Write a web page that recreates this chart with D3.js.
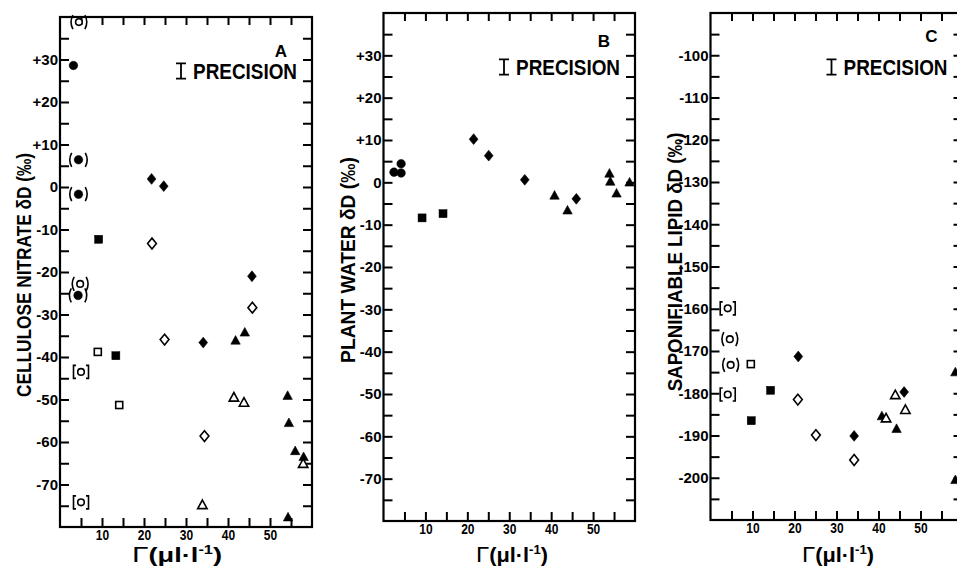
<!DOCTYPE html>
<html>
<head>
<meta charset="utf-8">
<script src="https://cdn.jsdelivr.net/npm/d3@7"></script>
<style>
  html, body { margin: 0; padding: 0; background: #fff; }
  svg { display: block; }
  .tick text { font-family: "Liberation Sans", Arial, sans-serif; fill: #000; }
</style>
</head>
<body>
<svg id="chart" width="957" height="566"></svg>
<script>
// ---------------- DATA ----------------
const xTickLabels = [10, 20, 30, 40, 50];
const yTickLabelsAB = [30, 20, 10, 0, -10, -20, -30, -40, -50, -60, -70];
const yTickLabelsC = [-100, -110, -120, -130, -140, -150, -160, -170, -180, -190, -200];
const panelLetters = ["A", "B", "C"];
const yTitles = ["CELLULOSE NITRATE δD (‰)", "PLANT WATER δD (‰)", "SAPONIFIABLE LIPID δD (‰)"];
const precisionLabel = "PRECISION";
const precisionRange = 3.6; // ‰, length of the precision bar

// [series, Γ (µl·l⁻¹), δD (‰)]
const pointsA = [
  ["parenOpenCircle", 4.5, 38.8],
  ["filledCircle", 3.2, 28.6],
  ["parenFilledCircle", 4.4, 6.4],
  ["parenFilledCircle", 4.4, -1.7],
  ["filledDiamond", 21.8, 1.9],
  ["filledDiamond", 24.7, 0.2],
  ["openDiamond", 21.9, -13.3],
  ["filledSquare", 9.2, -12.3],
  ["filledDiamond", 45.7, -21.0],
  ["parenOpenCircle", 4.8, -22.8],
  ["parenFilledCircle", 4.3, -25.5],
  ["openDiamond", 45.8, -28.4],
  ["openDiamond", 24.9, -35.9],
  ["filledDiamond", 34.1, -36.6],
  ["filledTriangle", 41.8, -36.2],
  ["filledTriangle", 44.0, -34.3],
  ["openSquare", 9.0, -38.8],
  ["filledSquare", 13.3, -39.7],
  ["bracketOpenCircle", 5.0, -43.5],
  ["openSquare", 14.1, -51.3],
  ["openTriangle", 41.4, -49.6],
  ["openTriangle", 43.8, -50.8],
  ["filledTriangle", 54.2, -49.2],
  ["filledTriangle", 54.5, -55.6],
  ["openDiamond", 34.4, -58.6],
  ["filledTriangle", 56.0, -62.2],
  ["filledTriangle", 58.0, -63.6],
  ["openTriangle", 57.9, -65.2],
  ["bracketOpenCircle", 5.0, -74.2],
  ["openTriangle", 33.9, -74.9],
  ["filledTriangle", 54.3, -77.8]
];

const pointsB = [
  ["filledCircle", 2.5, 2.4],
  ["filledCircle", 4.2, 4.4],
  ["filledCircle", 4.2, 2.2],
  ["filledSquare", 9.2, -8.4],
  ["filledSquare", 14.2, -7.4],
  ["filledDiamond", 21.5, 10.2],
  ["filledDiamond", 25.1, 6.3],
  ["filledDiamond", 33.7, 0.6],
  ["filledTriangle", 40.8, -3.2],
  ["filledTriangle", 43.9, -6.7],
  ["filledDiamond", 46.0, -3.9],
  ["filledTriangle", 53.9, 2.0],
  ["filledTriangle", 54.1, 0.1],
  ["filledTriangle", 55.6, -2.7],
  ["filledTriangle", 58.7, -0.1]
];

const pointsC = [
  ["bracketOpenCircle", 4.1, -159.9],
  ["parenOpenCircle", 4.6, -167.2],
  ["parenOpenCircle", 4.8, -173.3],
  ["openSquare", 9.6, -173.1],
  ["bracketOpenCircle", 4.1, -180.3],
  ["filledSquare", 14.3, -179.3],
  ["filledSquare", 9.7, -186.5],
  ["filledDiamond", 20.9, -171.3],
  ["openDiamond", 20.8, -181.5],
  ["openDiamond", 25.1, -189.9],
  ["filledDiamond", 34.2, -190.1],
  ["openDiamond", 34.2, -195.8],
  ["filledTriangle", 40.8, -185.5],
  ["openTriangle", 41.8, -186.0],
  ["filledTriangle", 44.3, -188.5],
  ["openTriangle", 44.0, -180.5],
  ["filledDiamond", 46.1, -179.7],
  ["openTriangle", 46.4, -184.0],
  ["filledTriangle", 58.3, -175.1],
  ["filledTriangle", 58.3, -200.6]
];

// ---------------- LAYOUT ----------------
const font = '"Liberation Sans", Arial, sans-serif';

const panels = [
  { left: 60, right: 312, top: 17, bottom: 527, yDomain: [-80, 40], yLabels: yTickLabelsAB, points: pointsA,
    letterDy: 40, yTitleCy: 275, yTitleLen: 244, xTitleCx: 177, xTitleLen: 90 },
  { left: 383.5, right: 635, top: 13, bottom: 521, yDomain: [-80, 40], yLabels: yTickLabelsAB, points: pointsB,
    letterDy: 34, yTitleCy: 260, yTitleLen: 206, xTitleCx: 512, xTitleLen: 72 },
  { left: 710.5, right: 962.5, top: 13, bottom: 520, yDomain: [-210, -90], yLabels: yTickLabelsC, points: pointsC,
    letterDy: 29, yTitleCy: 262, yTitleLen: 259, xTitleCx: 838, xTitleLen: 72 }
];

const svg = d3.select("#chart");
const fmtY = d => d > 0 ? "+" + d : String(d).replace("\u2212", "-");

function drawMarker(sel, type) {
  const sw = 1.6;
  const filled = type.startsWith("filled") || type === "parenFilledCircle";
  const fill = filled ? "#000" : "#fff";
  if (type.includes("Circle")) {
    const r = filled ? 4.3 : 3.3;
    sel.append("circle").attr("r", r).attr("fill", fill).attr("stroke", "#000").attr("stroke-width", filled ? 0.5 : sw);
    if (type.startsWith("paren")) {
      const o = filled ? 6.8 : 6;
      sel.append("path").attr("d", `M${-o},-7 Q${-o - 3.8},0 ${-o},7 M${o},-7 Q${o + 3.8},0 ${o},7`)
        .attr("fill", "none").attr("stroke", "#000").attr("stroke-width", 1.6);
    } else if (type.startsWith("bracket")) {
      sel.append("path").attr("d", `M-5,-6.5 H-7.5 V6.5 H-5 M5,-6.5 H7.5 V6.5 H5`)
        .attr("fill", "none").attr("stroke", "#000").attr("stroke-width", 1.6);
    }
  } else if (type.includes("Square")) {
    const s = filled ? 8 : 7;
    sel.append("rect").attr("x", -s / 2).attr("y", -s / 2).attr("width", s).attr("height", s)
      .attr("fill", fill).attr("stroke", "#000").attr("stroke-width", filled ? 0.5 : sw);
  } else if (type.includes("Diamond")) {
    sel.append("path").attr("d", "M0,-5.4 L4.4,0 L0,5.4 L-4.4,0 Z")
      .attr("fill", fill).attr("stroke", "#000").attr("stroke-width", filled ? 0.6 : sw);
  } else if (type.includes("Triangle")) {
    sel.append("path").attr("d", "M0,-5.3 L4.7,3.3 L-4.7,3.3 Z")
      .attr("fill", fill).attr("stroke", "#000").attr("stroke-width", filled ? 0.6 : sw);
  }
}

// place a text so that its advance equals a target length (horizontal squeeze)
function fitText(sel, cx, cy, rot, target) {
  sel.attr("x", 0).attr("y", 0);
  const len = sel.node().getComputedTextLength();
  const s = target / len;
  sel.attr("transform", `translate(${cx},${cy}) rotate(${rot}) scale(${s},1)`);
}

panels.forEach((p, i) => {
  const x = d3.scaleLinear().domain([0, 60]).range([p.left, p.right]);
  const y = d3.scaleLinear().domain(p.yDomain).range([p.bottom, p.top]);
  const xt = d3.range(5, 60, 5);
  const yt = d3.range(p.yDomain[0] + 5, p.yDomain[1], 5);

  const bottom = svg.append("g").attr("transform", `translate(0,${p.bottom})`)
    .call(d3.axisBottom(x).tickValues(xt).tickSize(-9).tickPadding(2)
      .tickFormat(d => xTickLabels.includes(d) ? String(d) : ""));
  bottom.selectAll("text").style("font-size", "15px").style("font-weight", "bold")
    .attr("transform", "scale(0.8,1)");

  svg.append("g").attr("transform", `translate(0,${p.top})`)
    .call(d3.axisTop(x).tickValues(xt).tickSize(-8).tickFormat(""));

  const left = svg.append("g").attr("transform", `translate(${p.left},0)`)
    .call(d3.axisLeft(y).tickValues(yt).tickSize(-9).tickPadding(2)
      .tickFormat(d => p.yLabels.includes(d) ? fmtY(d) : ""));
  left.selectAll("text").style("font-size", "15px").style("font-weight", "bold");

  svg.append("g").attr("transform", `translate(${p.right},0)`)
    .call(d3.axisRight(y).tickValues(yt).tickSize(-9).tickFormat(""));

  svg.selectAll(".domain").remove();
  svg.selectAll(".tick line").attr("stroke", "#000").attr("stroke-width", 2);

  svg.append("rect").attr("x", p.left).attr("y", p.top)
    .attr("width", p.right - p.left).attr("height", p.bottom - p.top)
    .attr("fill", "none").attr("stroke", "#000").attr("stroke-width", 2.2);

  // points
  p.points.forEach(d => {
    const m = svg.append("g").attr("transform", `translate(${x(d[1])},${y(d[2])})`);
    drawMarker(m, d[0]);
  });

  // panel letter
  svg.append("text").attr("x", p.right - 25).attr("y", p.top + p.letterDy)
    .attr("text-anchor", "end").style("font-family", font).style("font-size", "17px")
    .style("font-weight", "bold").text(panelLetters[i]);

  // precision label and bar
  const pt = svg.append("text").attr("text-anchor", "end")
    .style("font-family", font).style("font-size", "22px").style("font-weight", "bold").text(precisionLabel);
  fitText(pt, p.right - 15, p.top + 62, 0, 104);
  const bx = p.right - 15 - 104 - 12;
  const yMid = p.top + 54;
  const half = Math.abs(y(0) - y(precisionRange)) / 2;
  svg.append("path")
    .attr("d", `M${bx - 5},${yMid - half} H${bx + 5} M${bx},${yMid - half} V${yMid + half} M${bx - 5},${yMid + half} H${bx + 5}`)
    .attr("stroke", "#000").attr("stroke-width", 1.8).attr("fill", "none");

  // y title
  const yt2 = svg.append("text").attr("text-anchor", "middle")
    .style("font-family", font).style("font-size", "21px").style("font-weight", "bold").text(yTitles[i]);
  fitText(yt2, p.left - 29, p.yTitleCy, -90, p.yTitleLen);

  // x title
  const xt2 = svg.append("text").attr("text-anchor", "middle")
    .style("font-family", font).style("font-size", "20px").style("font-weight", "bold");
  xt2.append("tspan").style("font-size", "22px").style("font-weight", "normal").text("Γ");
  xt2.append("tspan").text("(μl·l");
  xt2.append("tspan").attr("dy", -8).style("font-size", "12px").text("-1");
  xt2.append("tspan").attr("dy", 8).text(")");
  fitText(xt2, p.xTitleCx, 562, 0, p.xTitleLen);
});
</script>
</body>
</html>
